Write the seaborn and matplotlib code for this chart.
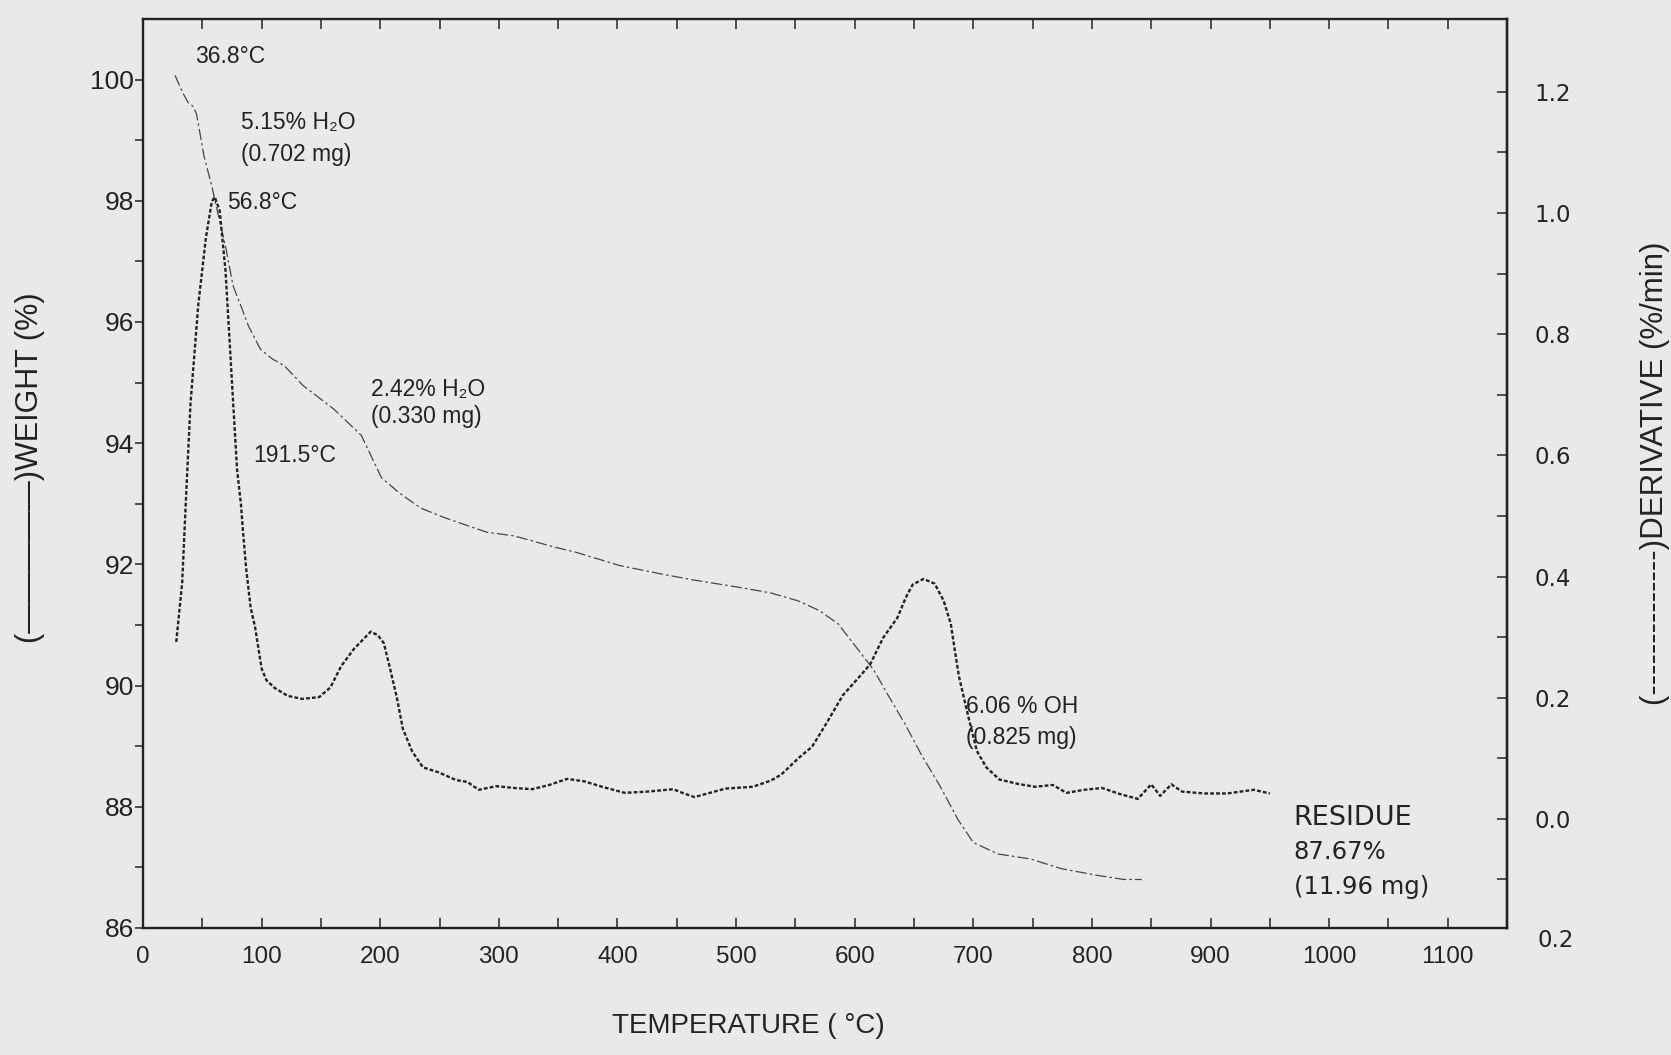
import numpy as np
import pandas as pd
import matplotlib
matplotlib.use("Agg")
import matplotlib.pyplot as plt
import matplotlib.transforms as mtransforms
import seaborn as sns

# ---------------- data ----------------
temp_weight = [27, 33, 38, 42, 45, 51.5, 58, 63, 69.5, 76, 82.6, 89, 99, 109, 119,
               135, 161, 184, 201, 216, 234, 253, 272, 290, 313, 346, 365, 402, 440,
               465, 503, 529, 552, 570, 586, 601, 616, 627, 642, 657, 672, 687, 700,
               721, 748, 774, 804, 827, 842]
weight_pct = [100.07, 99.8, 99.62, 99.56, 99.44, 98.73, 98.24, 97.8, 97.25, 96.59,
              96.26, 95.93, 95.55, 95.39, 95.28, 94.95, 94.56, 94.13, 93.43, 93.18,
              92.93, 92.78, 92.65, 92.53, 92.47, 92.29, 92.2, 91.98, 91.83, 91.74,
              91.62, 91.53, 91.4, 91.24, 91.02, 90.64, 90.26, 89.88, 89.38, 88.83,
              88.34, 87.79, 87.41, 87.22, 87.14, 86.98, 86.87, 86.8, 86.8]

temp_deriv = [28, 33, 36, 40, 46.6, 53, 58, 60.5, 64.6, 69.5, 72.8, 76, 79.3, 82.5,
              84.3, 87, 90.7, 94.4, 100, 104, 111, 122, 134, 148.5, 158, 167, 178,
              186, 192, 198, 203, 208, 214, 219, 227, 236, 249, 264, 273.5, 283, 298,
              313, 328, 342.5, 357.5, 372, 387, 406, 425, 447, 456, 465, 476, 491,
              514, 529, 538, 553, 564, 575, 590, 605.5, 613, 624, 636, 643, 649, 658,
              667.5, 675, 681, 684.4, 688, 696, 703, 711, 722, 737, 752, 767, 778.5,
              793.5, 808.6, 823.6, 838.7, 850, 857.5, 867, 876, 895, 914, 925, 936.5,
              950]
deriv = [0.292, 0.39, 0.52, 0.685, 0.849, 0.959, 1.019, 1.026, 1.004, 0.905, 0.795,
         0.686, 0.576, 0.52, 0.474, 0.412, 0.349, 0.317, 0.248, 0.229, 0.216, 0.203,
         0.198, 0.201, 0.217, 0.252, 0.281, 0.297, 0.309, 0.303, 0.29, 0.25, 0.2,
         0.149, 0.111, 0.085, 0.077, 0.064, 0.061, 0.048, 0.054, 0.051, 0.049, 0.056,
         0.066, 0.062, 0.053, 0.043, 0.045, 0.049, 0.042, 0.036, 0.042, 0.05, 0.053,
         0.063, 0.073, 0.101, 0.119, 0.154, 0.204, 0.238, 0.255, 0.299, 0.332, 0.365,
         0.387, 0.396, 0.388, 0.36, 0.322, 0.278, 0.234, 0.167, 0.112, 0.085, 0.065,
         0.058, 0.053, 0.056, 0.043, 0.048, 0.051, 0.041, 0.033, 0.057, 0.038, 0.057,
         0.045, 0.042, 0.042, 0.045, 0.048, 0.042]

x_ticks = [0, 100, 200, 300, 400, 500, 600, 700, 800, 900, 1000, 1100]
weight_ticks = [86, 88, 90, 92, 94, 96, 98, 100]
deriv_ticks = [0.0, 0.2, 0.4, 0.6, 0.8, 1.0, 1.2]

annotations = [
    ("36.8°C", 44, 100.38),
    ("5.15% H\u2082O", 83, 99.3),
    ("(0.702 mg)", 83, 98.77),
    ("56.8°C", 71, 97.97),
    ("2.42% H\u2082O", 192, 94.89),
    ("(0.330 mg)", 192, 94.44),
    ("191.5°C", 93, 93.8),
    ("6.06 % OH", 694, 89.65),
    ("(0.825 mg)", 694, 89.15),
]
residue_lines = [("RESIDUE", 970, 87.82), ("87.67%", 970, 87.25), ("(11.96 mg)", 970, 86.68)]

# ---------------- style ----------------
sns.set_theme(style="ticks")
plt.rcParams["font.family"] = ["Liberation Sans", "DejaVu Sans"]
BG = "#e9e9e9"
INK = "#232323"

fig = plt.figure(figsize=(16.71, 10.55), dpi=100, facecolor=BG)
ax = fig.add_axes([0.0856, 0.1204, 0.8163, 0.8616])
ax.set_facecolor(BG)
ax2 = ax.twinx()

wdf = pd.DataFrame({"T": temp_weight, "W": weight_pct})
ddf = pd.DataFrame({"T": temp_deriv, "D": deriv})

sns.lineplot(data=wdf, x="T", y="W", ax=ax, color="#474747", linewidth=0.9,
             errorbar=None, sort=False)
ax.lines[-1].set_linestyle((0, (9, 2.5, 2, 2.5)))
sns.lineplot(data=ddf, x="T", y="D", ax=ax2, color=INK, linewidth=1.7,
             errorbar=None, sort=False)
ax2.lines[-1].set_linestyle((0, (1.6, 0.9)))

# axes limits / ticks
ax.set_xlim(0, 1150)
ax.set_ylim(86, 101)
ax2.set_ylim(-0.18, 1.32)

ax.set_xticks(x_ticks)
ax.set_xticks(np.arange(50, 1150, 100), minor=True)
ax.set_yticks(weight_ticks)
ax.set_yticks(np.arange(87, 101, 2), minor=True)
ax2.set_yticks(deriv_ticks)
ax2.set_yticklabels([f"{v:.1f}" for v in deriv_ticks])
ax2.set_yticks(np.arange(-0.1, 1.25, 0.2), minor=True)

ax.tick_params(axis="x", which="both", direction="in", length=7, width=1.1,
               top=True, labeltop=False, colors=INK, labelsize=17.5, pad=13)
ax.tick_params(axis="y", which="both", direction="out", length=6, width=1.1,
               right=False, colors=INK, labelsize=19, pad=0.5)
ax2.tick_params(axis="y", which="both", direction="in", length=7, width=1.1,
                colors=INK, labelsize=16.5, pad=20, labelfontfamily="DejaVu Sans")

for s in ax.spines.values():
    s.set_linewidth(1.7)
    s.set_color(INK)
for name, s in ax2.spines.items():
    s.set_visible(name == "right")
    s.set_linewidth(1.7)
    s.set_color(INK)

# bottom-right "0.2" label (below the corner)
trans = mtransforms.blended_transform_factory(ax2.transAxes, ax2.transData)
ax2.text(1.022, -0.2, "0.2", transform=trans, ha="left", va="center", fontsize=16.5,
         color=INK, family="DejaVu Sans", clip_on=False)

# axis labels
ax.set_xlabel("TEMPERATURE ( °C)", fontsize=20, color=INK)
ax.xaxis.set_label_coords(0.444, -0.093)
ax.set_ylabel("(\u2014\u2014\u2014\u2014\u2014)WEIGHT (%)", fontsize=22, color=INK)
ax.yaxis.set_label_coords(-0.072, 0.506)
ax2.set_ylabel("(" + "-" * 14 + ")DERIVATIVE (%/min)", fontsize=22.5, color=INK)
ax2.yaxis.set_label_coords(1.0975, 0.5)

# annotations
for txt, t, w in annotations:
    ax.text(t, w, txt, ha="left", va="center", fontsize=16.5, color=INK)
for i, (txt, t, w) in enumerate(residue_lines):
    ax.text(t, w, txt, ha="left", va="center", fontsize=19.5 if i == 0 else 17.5,
            color=INK, family="DejaVu Sans")

fig.savefig("out.png", dpi=100, facecolor=BG)
